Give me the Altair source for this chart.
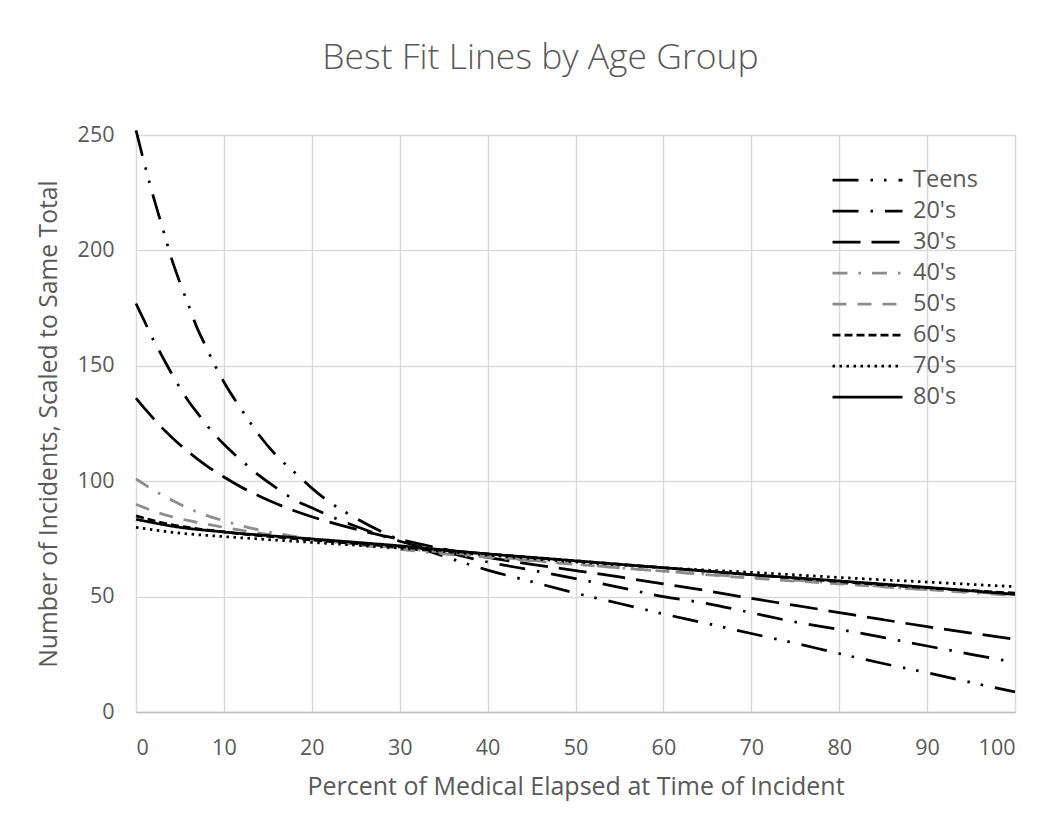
import altair as alt
import pandas as pd

# ---- data ----
groups = ["Teens", "20's", "30's", "40's", "50's", "60's", "70's", "80's"]

teens_x = [0, 1, 2, 3, 4, 5, 6, 7, 8, 9, 10, 12, 14, 16, 18, 20, 22, 25, 28, 31, 35, 40, 45, 50, 55, 60, 65, 70, 75, 80, 85, 90, 95, 100]
teens_y = [252, 237, 223, 210, 197, 186, 176, 166, 158, 150, 143, 131, 120, 111, 104, 97, 91, 84, 78, 73, 67.5, 61.5, 56.5, 51.5, 47, 42.5, 38.3, 34, 29.8, 25.3, 21, 17, 12.8, 8.7]

t20_x = [0, 1, 2, 3, 4, 5, 6, 7, 8, 9, 10, 12, 14, 16, 18, 20, 22, 25, 30, 35, 40, 45, 50, 55, 60, 65, 70, 75, 80, 85, 90, 95, 100]
t20_y = [177, 169, 161, 154, 147, 140.5, 134.5, 129.5, 124.5, 120, 116, 109, 102.5, 97, 92, 88.5, 85, 80.5, 74, 69.5, 65, 61.5, 57.8, 54, 50, 47, 43, 39, 35.8, 32.3, 28.6, 25, 21.5]

t30_x = [0, 1, 2, 3, 4, 5, 6, 7, 8, 9, 10, 12, 14, 16, 18, 20, 22, 25, 30, 35, 40, 45, 50, 55, 60, 65, 70, 75, 80, 85, 90, 95, 100]
t30_y = [136, 131.4, 127.1, 123, 119.3, 115.8, 112.6, 109.6, 106.8, 104.2, 101.8, 97.4, 93.6, 90.2, 87.2, 84.6, 82.3, 79.2, 74.8, 70.6, 67, 64, 61.3, 58.5, 55.5, 52.5, 49.2, 46.2, 43.1, 40, 37, 34.2, 31.5]

t40_x = [0, 1, 2, 3, 4, 5, 6, 7, 8, 10, 12, 14, 17, 20, 25, 30, 35, 40, 50, 60, 70, 80, 90, 100]
t40_y = [101, 98.5, 96, 94, 92, 90, 88.2, 86.6, 85.2, 82.8, 80.7, 78.9, 76.7, 75, 72.5, 70.5, 68.5, 67, 64, 61, 58.3, 55.8, 53, 50.5]

t50_x = [0, 2, 4, 6, 8, 10, 15, 20, 30, 40, 50, 60, 70, 80, 90, 100]
t50_y = [90, 87, 84.7, 82.9, 81.4, 80, 77, 74.8, 71, 67.5, 64, 61, 58, 55.5, 53, 51]

t60_x = [0, 3, 5, 10, 20, 30, 40, 50, 60, 70, 80, 90, 100]
t60_y = [85, 82, 80.5, 78, 74.5, 71.5, 68.5, 65.5, 62.5, 59.5, 56.5, 53.8, 51.5]

t70_x = [0, 5, 10, 20, 30, 40, 50, 60, 70, 80, 90, 100]
t70_y = [80, 77.5, 76, 73.5, 71, 68, 65, 62.5, 60.5, 58.3, 56.3, 54.3]

t80_x = [0, 5, 10, 20, 30, 40, 50, 60, 70, 80, 90, 100]
t80_y = [83.5, 80, 78, 75, 72, 68.5, 65.5, 62.5, 59.5, 56.8, 54, 51]

series_x = [teens_x, t20_x, t30_x, t40_x, t50_x, t60_x, t70_x, t80_x]
series_y = [teens_y, t20_y, t30_y, t40_y, t50_y, t60_y, t70_y, t80_y]

x_ticks = [0, 10, 20, 30, 40, 50, 60, 70, 80, 90, 100]
y_ticks = [0, 50, 100, 150, 200, 250]

rows = []
for g, xs, ys in zip(groups, series_x, series_y):
    for xv, yv in zip(xs, ys):
        rows.append({"group": g, "x": xv, "y": yv})
df = pd.DataFrame(rows)

line_colors = ["#000000", "#000000", "#000000", "#8c8c8c", "#8c8c8c", "#000000", "#000000", "#000000"]
dashes = [
    [26, 12, 2.5, 11, 2.5, 12],
    [26, 12, 2.5, 12],
    [28, 11],
    [15, 11, 2.5, 11],
    [14, 11],
    [8, 4],
    [2.5, 4.5],
    [1, 0],
]

TXT = "#595959"
FONT = "Open Sans"

chart = alt.Chart(df).mark_line(strokeWidth=2.75, interpolate="monotone", strokeCap="butt").encode(
    x=alt.X("x:Q",
            scale=alt.Scale(domain=[0, 100], nice=False, zero=False),
            axis=alt.Axis(values=x_ticks, title="Percent of Medical Elapsed at Time of Incident",
                          grid=True, ticks=False, domain=True, domainColor="#bfbfbf", domainWidth=1.5,
                          gridColor="#d9d9d9", gridWidth=1.5,
                          labelFontSize=21.5, labelColor=TXT, labelFont=FONT, labelPadding=25,
                          titleFontSize=25, titleColor=TXT, titleFont=FONT, titleFontWeight="normal",
                          titlePadding=16)),
    y=alt.Y("y:Q",
            scale=alt.Scale(domain=[0, 250], nice=False),
            axis=alt.Axis(values=y_ticks, title="Number of Incidents, Scaled to Same Total",
                          grid=True, ticks=False, domain=False,
                          gridColor="#d9d9d9", gridWidth=1.5,
                          labelFontSize=21.5, labelColor=TXT, labelFont=FONT, labelPadding=22,
                          titleFontSize=24.7, titleColor=TXT, titleFont=FONT, titleFontWeight="normal",
                          titlePadding=16)),
    color=alt.Color("group:N", scale=alt.Scale(domain=groups, range=line_colors), title=None,
                    legend=alt.Legend(orient="none", legendX=695, legendY=29.5)),
    strokeDash=alt.StrokeDash("group:N", scale=alt.Scale(domain=groups, range=dashes), title=None,
                              legend=alt.Legend(orient="none", legendX=695, legendY=29.5)),
    detail="group:N",
).properties(
    width=879,
    height=577,
    title=alt.Title("Best Fit Lines by Age Group", fontSize=35.5, font=FONT, fontWeight=300,
                    color=TXT, anchor="middle", offset=48, dx=-35),
    autosize=alt.AutoSizeParams(type="none"),
    padding={"left": 128, "top": 127, "right": 30, "bottom": 100},
).configure_view(stroke=None).configure_legend(
    symbolType="stroke", symbolSize=4900, symbolStrokeWidth=2.75, labelFontSize=23.5,
    labelFont=FONT, labelColor=TXT, labelOffset=9, rowPadding=0, clipHeight=31, padding=0,
)

chart.save("out.html", embed_options={"renderer": "svg", "actions": False})
